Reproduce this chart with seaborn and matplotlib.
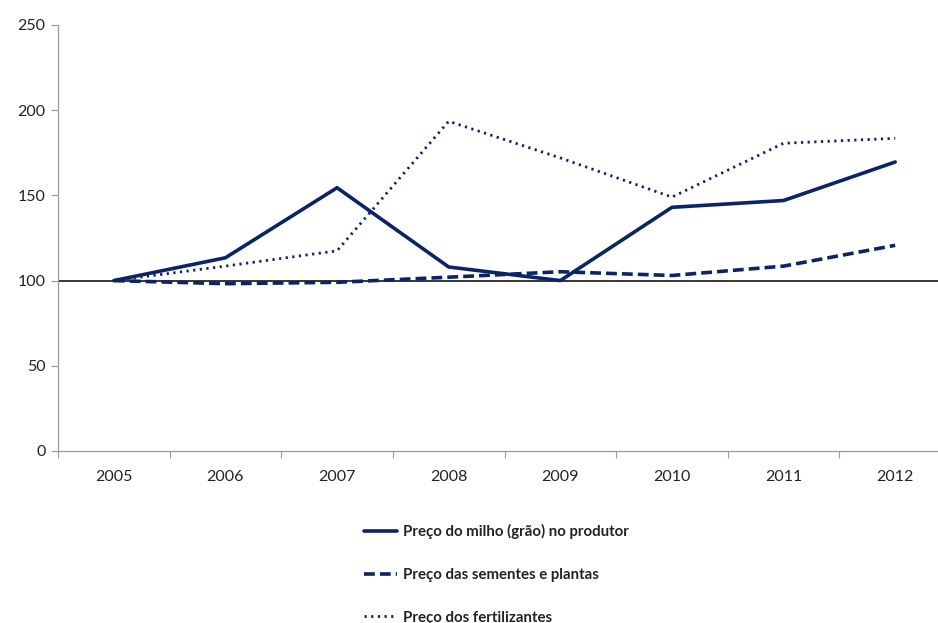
import matplotlib
matplotlib.use('Agg')
import matplotlib.pyplot as plt
import seaborn as sns
import pandas as pd

sns.set_theme(style="white")
plt.rcParams['font.family'] = ['Lato', 'DejaVu Sans']

# data (index, 2005 = 100)
years = [2005, 2006, 2007, 2008, 2009, 2010, 2011, 2012]
milho = [100, 113.4, 154.5, 108, 100, 143, 147, 169.6]
sementes = [100, 98.2, 99, 102, 105.2, 103, 108.5, 120.7]
fertilizantes = [100, 108.5, 117.5, 193.5, 172, 149, 180.6, 183.5]
labels = ['Preço do milho (grão) no produtor',
          'Preço das sementes e plantas',
          'Preço dos fertilizantes']

navy = '#0B2466'

df = pd.DataFrame({'ano': years * 3,
                   'valor': milho + sementes + fertilizantes,
                   'serie': [labels[0]] * 8 + [labels[1]] * 8 + [labels[2]] * 8})

fig = plt.figure(figsize=(9.38, 6.23), dpi=100)
ax = fig.add_axes([58 / 938, 172 / 623, 893 / 938, 426 / 623])

styles = {labels[0]: (None, 2.6), labels[1]: ((3, 1.4), 2.6), labels[2]: ((0.8, 1.6), 2.0)}
for lab in labels:
    d = df[df['serie'] == lab]
    dash, lw = styles[lab]
    sns.lineplot(data=d, x='ano', y='valor', ax=ax, color=navy, lw=lw, label=lab)
    ln = ax.get_lines()[-1]
    if dash is not None:
        ln.set_dashes(dash)

ax.axhline(100, color='black', lw=1.1, zorder=1)

ax.set_xlim(2004.5, 2012.5)
ax.set_ylim(0, 250)
ax.set_xticks(years)
ax.set_xticklabels([str(y) for y in years])
ax.set_xticks([y - 0.5 for y in years] + [2012.5], minor=True)
ax.tick_params(axis='x', which='major', bottom=False, length=0, pad=14, labelsize=11.5,
               colors='#222222')
ax.tick_params(axis='x', which='minor', bottom=True, length=5, width=0.8, color='#999999',
               direction='out')
ax.set_yticks([0, 50, 100, 150, 200, 250])
ax.tick_params(axis='y', left=True, length=5, width=0.8, color='#999999', direction='out',
               labelsize=11.5, labelcolor='#222222', pad=4)
ax.set_xlabel('')
ax.set_ylabel('')
for s in ['top', 'right']:
    ax.spines[s].set_visible(False)
for s in ['left', 'bottom']:
    ax.spines[s].set_color('#999999')
    ax.spines[s].set_linewidth(0.9)

handles, labs = ax.get_legend_handles_labels()
ax.get_legend().remove()
leg = fig.legend(handles, labs, loc='upper left', bbox_to_anchor=(364 / 938, 1 - 524 / 623),
                 frameon=False, handlelength=2.2, handletextpad=0.4, labelspacing=1.92,
                 borderpad=0, borderaxespad=0, prop={'weight': 'bold', 'size': 10.8})
for t in leg.get_texts():
    t.set_color('#222222')

fig.savefig('out.png', dpi=100)
